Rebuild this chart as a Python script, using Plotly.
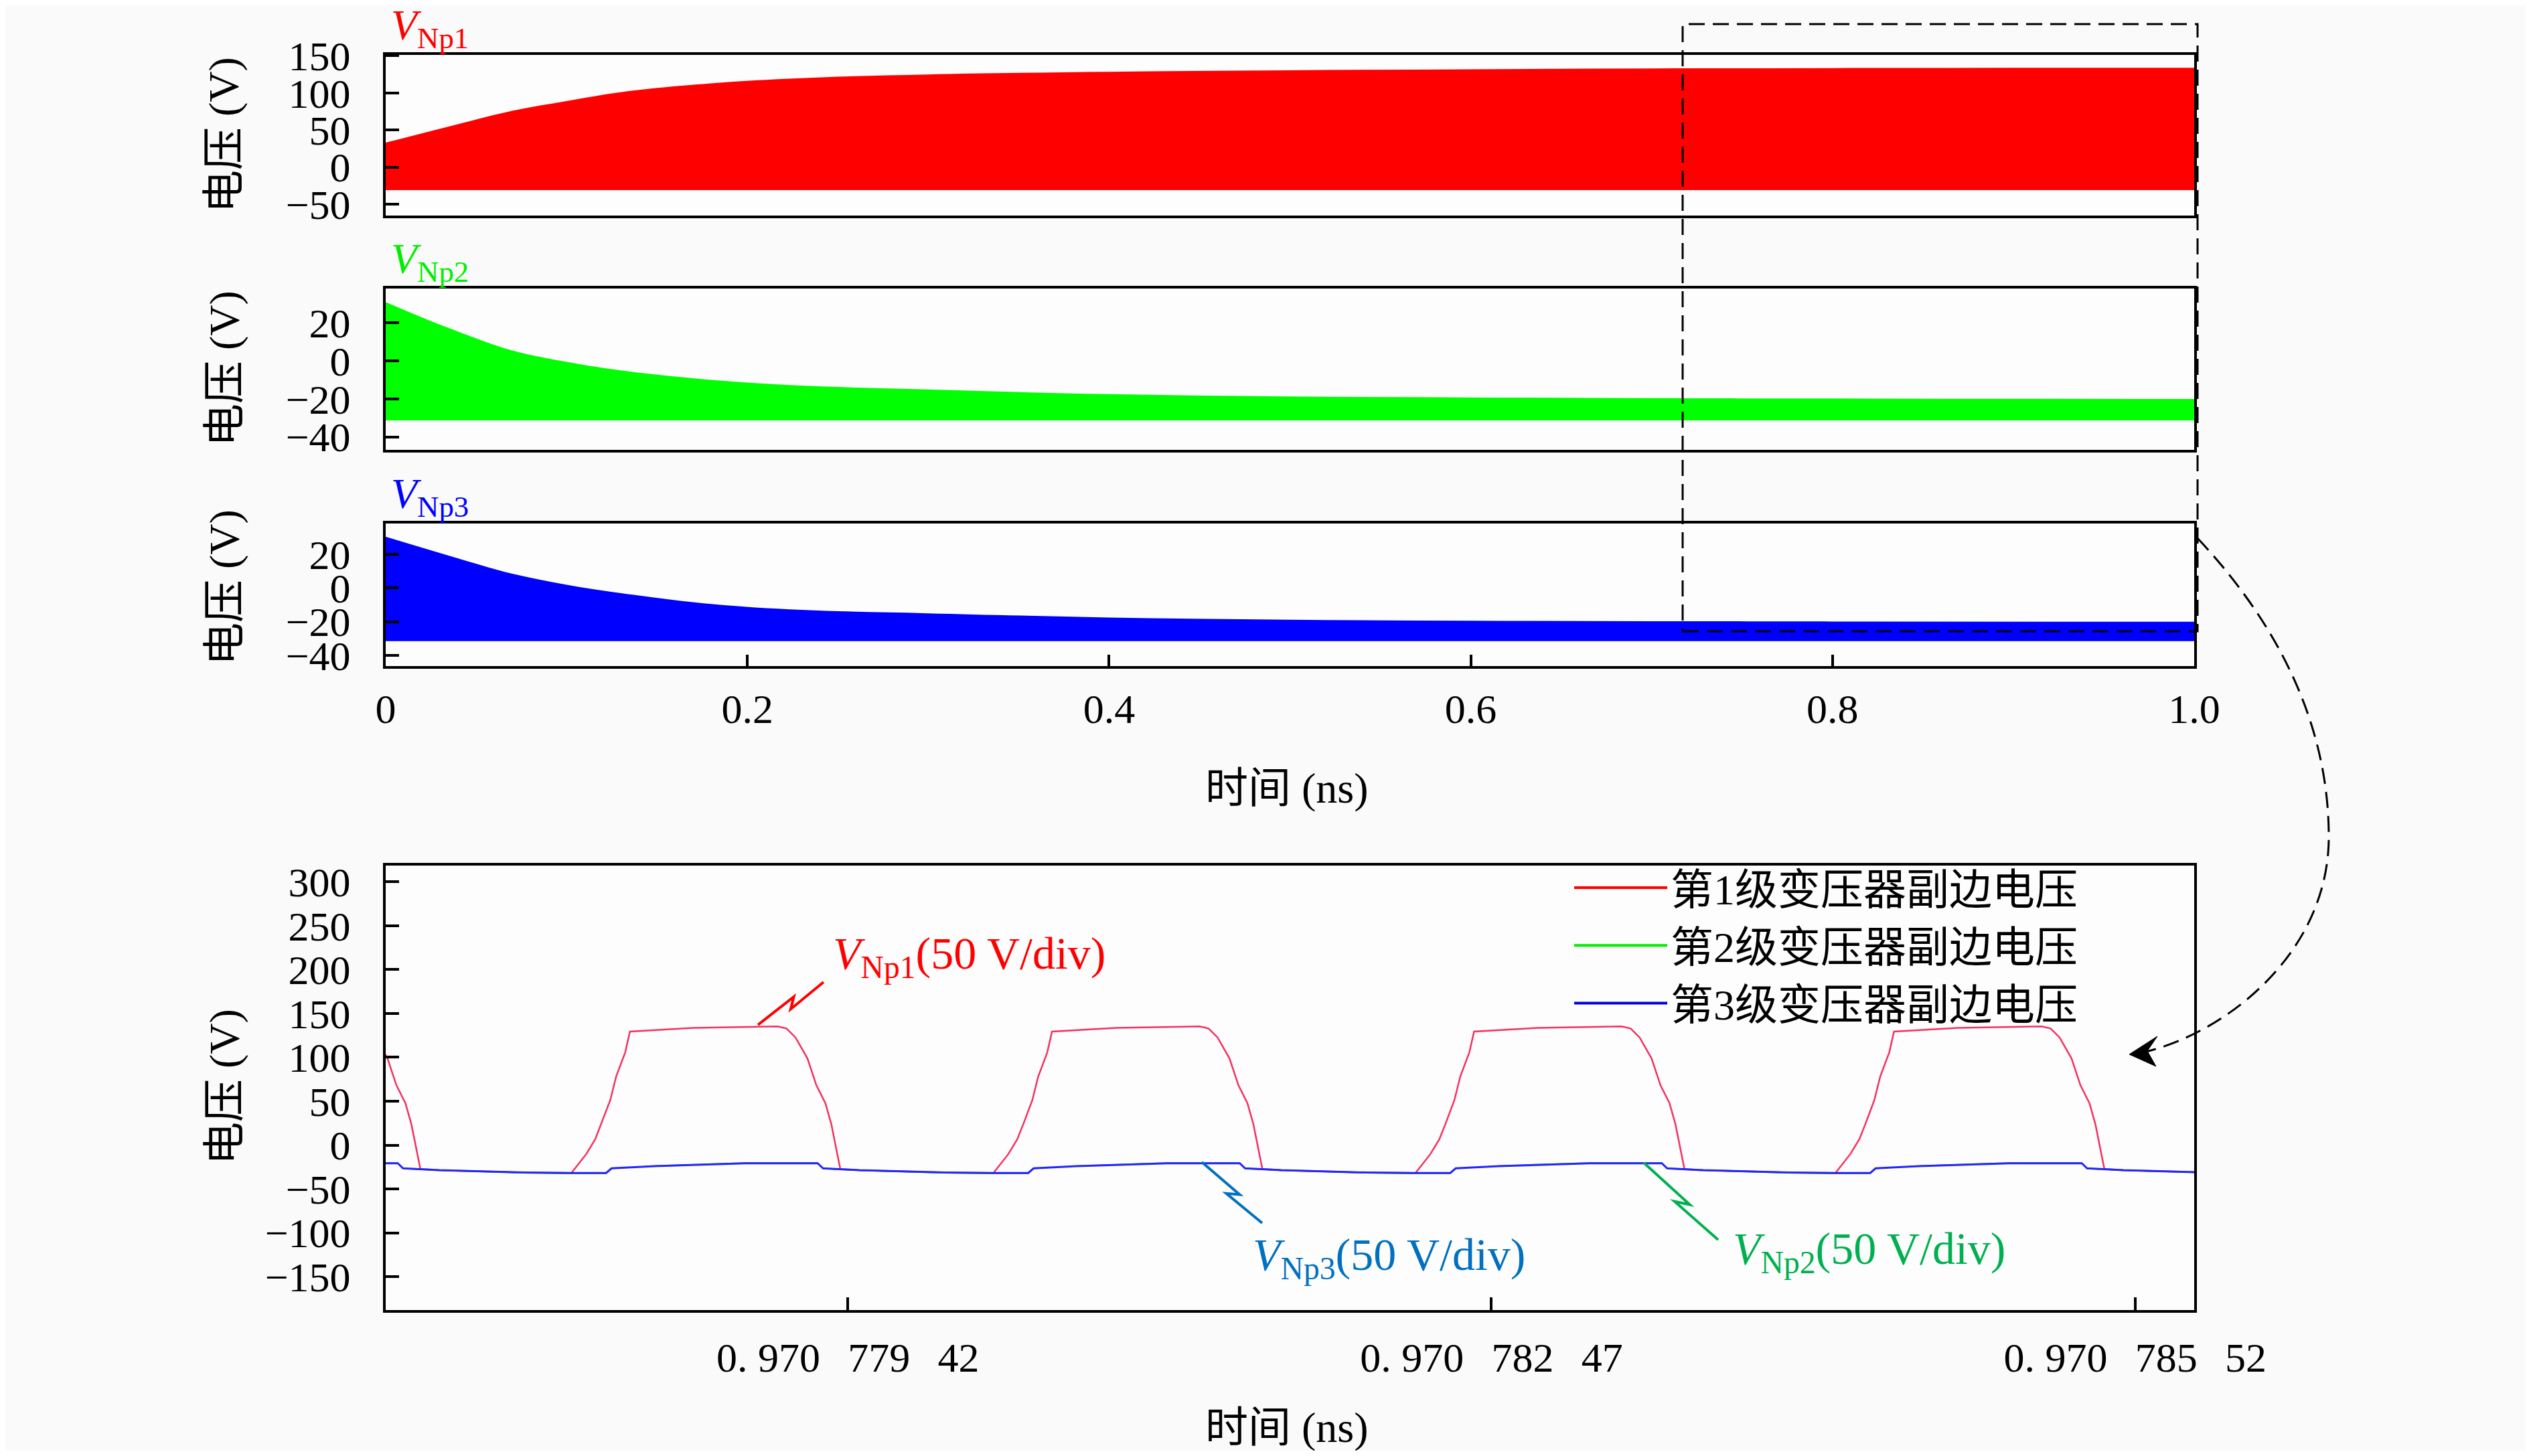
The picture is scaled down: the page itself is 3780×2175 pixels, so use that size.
import plotly.graph_objects as go

W, H = 3780, 2175          # browser window
OFF = 8                    # default body margin of the page
FW, FH = W - 2 * OFF, H - 2 * OFF
FONT = "Liberation Serif, Noto Sans CJK SC, serif"

# ---- top panels: envelope of the fast ringing over 0..1 ns
T_NP1 = [0, 0.04, 0.07, 0.1, 0.13, 0.18, 0.23, 0.3, 0.4, 0.5, 0.6, 0.7, 0.8, 0.9, 1.0]
V_NP1_TOP = [33, 58, 76, 89, 101, 113, 120, 125, 128.5, 130.5, 132, 133, 133.5, 134, 134]
V_NP1_LOW = -31

T_NP2 = [0, 0.033, 0.07, 0.1, 0.13, 0.18, 0.23, 0.3, 0.4, 0.5, 0.6, 0.7, 0.8, 1.0]
V_NP2_TOP = [31, 18, 5.5, -0.5, -5, -10, -13, -15, -17.5, -18.7, -19.2, -19.6, -19.8, -20]
V_NP2_LOW = -31.3

T_NP3 = [0, 0.042, 0.07, 0.1, 0.13, 0.18, 0.23, 0.3, 0.4, 0.5, 0.6, 0.7, 0.8, 1.0]
V_NP3_TOP = [30.5, 17, 8.5, 2, -3, -9.5, -13, -15, -17.5, -18.8, -19.4, -19.7, -19.9, -20]
V_NP3_LOW = -31.6

# ---- bottom panel: zoomed window around 0.97078 ns
PULSE_START = [0.97077612, 0.97077811, 0.97078011, 0.97078211, 0.97078410]  # ns
# shape of one period, time given in 1e-6 ns after the pulse start
NP1_DT = [0, 0.0707, 0.1132, 0.1414, 0.1839, 0.2125, 0.2550, 0.2775, 0.5804, 0.9768,
          1.0193, 1.0618, 1.1186, 1.1608, 1.2036, 1.2318, 1.2743, 1.3637, 1.5413, 1.7665]
NP1_V = [-31.8, -10.2, 6.8, 23.8, 51, 78.4, 105.6, 129.4, 133.6, 135.3,
         132.9, 122.7, 98.8, 68.2, 47.7, 23.8, -27.3, -28.6, -29.8, -31.3]
NP23_DT = [0, 0.1649, 0.1903, 0.3964, 0.6502, 0.8246, 1.1671, 1.1925, 1.3637, 1.5413, 1.7665]
NP2_V = [-32.3, -32.3, -26.8, -23.6, -21.5, -20.2, -20.1, -26.8, -29.0, -30.3, -31.8]
NP3_V = [-31.8, -31.8, -26.5, -24.0, -22.0, -20.8, -20.7, -26.5, -28.6, -29.8, -31.3]

BOT_RANGE = [0.97077723, 0.97078580]
BOT_TICKS = [0.97077942, 0.97078247, 0.97078552]
BOT_TICKTEXT = ["0.\u2005970\u2002\u2006779\u2002\u200642",
                "0.\u2005970\u2002\u2006782\u2002\u200647",
                "0.\u2005970\u2002\u2006785\u2002\u200652"]
LEGEND_NAMES = ["第1级变压器副边电压", "第2级变压器副边电压", "第3级变压器副边电压"]


# screen pixel -> paper fraction
def px(x):
    return (x - OFF) / FW


def py(y):
    return 1 - (y - OFF) / FH


def pulses(dt, v):
    xs, ys = [], []
    for s in PULSE_START:
        xs += [s + d * 1e-6 for d in dt]
        ys += v
    return xs, ys


def path(points):
    return "M " + " L ".join(f"{px(x):.6f},{py(y):.6f}" for x, y in points)


def zigzag(x0, y0, x1, y1):
    dx, dy = x1 - x0, y1 - y0
    ln = (dx * dx + dy * dy) ** 0.5
    nx, ny = -dy / ln, dx / ln
    a = (x0 + 0.58 * dx - 6 * nx, y0 + 0.58 * dy - 6 * ny)
    b = (x0 + 0.46 * dx + 7 * nx, y0 + 0.46 * dy + 7 * ny)
    return path([(x0, y0), a, b, (x1, y1)])


fig = go.Figure()

# filled bands on the three upper panels
bands = [(T_NP1, V_NP1_TOP, V_NP1_LOW, "#ff0000", "1"),
         (T_NP2, V_NP2_TOP, V_NP2_LOW, "#00ff00", "2"),
         (T_NP3, V_NP3_TOP, V_NP3_LOW, "#0000ff", "3")]
for t, top, low, color, k in bands:
    fig.add_trace(go.Scatter(x=[t[0], t[-1]], y=[low, low], mode="lines", line=dict(width=0),
                             showlegend=False, hoverinfo="skip", xaxis="x" + k, yaxis="y" + k))
    fig.add_trace(go.Scatter(x=t, y=top, mode="lines", line=dict(width=0, shape="spline"),
                             fill="tonexty", fillcolor=color, showlegend=False,
                             xaxis="x" + k, yaxis="y" + k))

# zoomed waveforms
for dt, v, color, w in [(NP1_DT, NP1_V, "#f5305f", 2.5), (NP23_DT, NP2_V, "#00d000", 1.5),
                        (NP23_DT, NP3_V, "#2525ff", 3)]:
    x, y = pulses(dt, v)
    fig.add_trace(go.Scatter(x=x, y=y, mode="lines", line=dict(color=color, width=w),
                             showlegend=False, xaxis="x4", yaxis="y4"))

# legend swatches
for name, color in zip(LEGEND_NAMES, ["#ff0000", "#00ee00", "#0000dd"]):
    fig.add_trace(go.Scatter(x=[None], y=[None], mode="lines", name=name,
                             line=dict(color=color, width=4), xaxis="x4", yaxis="y4"))

axis = dict(showline=True, linewidth=4, linecolor="black", mirror=True, ticks="inside",
            ticklen=20, tickwidth=4, tickcolor="black", showgrid=False, zeroline=False,
            tickfont=dict(size=62, family=FONT, color="black"))
xdom = [px(576), px(3277)]

layout = dict(
    width=FW, height=FH, margin=dict(l=0, r=0, t=0, b=0, autoexpand=False),
    paper_bgcolor="#fafafa", plot_bgcolor="#fdfdfd",
    font=dict(family=FONT, color="black"),
    showlegend=True,
    legend=dict(x=px(2346), y=py(1278), xanchor="left", yanchor="top", bgcolor="rgba(0,0,0,0)",
                font=dict(size=64, family=FONT), itemwidth=139, tracegroupgap=0,
                traceorder="normal"),
)
layout["xaxis"] = dict(axis, domain=xdom, anchor="y", range=[0, 1], ticks="", showticklabels=False)
layout["xaxis2"] = dict(axis, domain=xdom, anchor="y2", range=[0, 1], ticks="", showticklabels=False)
layout["xaxis3"] = dict(axis, domain=xdom, anchor="y3", range=[0, 1], ticklen=17,
                        tickvals=[0, 0.2, 0.4, 0.6, 0.8, 1.0],
                        ticktext=["0", "0.2", "0.4", "0.6", "0.8", "1.0"], ticklabelstandoff=7)
layout["xaxis4"] = dict(axis, domain=xdom, anchor="y4", range=BOT_RANGE, ticklen=19,
                        tickvals=BOT_TICKS, ticktext=BOT_TICKTEXT, ticklabelstandoff=14)
layout["yaxis"] = dict(axis, domain=[py(322), py(82)], anchor="x", range=[-65.3, 151.3],
                       tickvals=[-50, 0, 50, 100, 150], ticklabelstandoff=36)
layout["yaxis2"] = dict(axis, domain=[py(672), py(431)], anchor="x2", range=[-46.8, 38.1],
                        tickvals=[-40, -20, 0, 20], ticklabelstandoff=36)
layout["yaxis3"] = dict(axis, domain=[py(995), py(782)], anchor="x3", range=[-46.4, 38.4],
                        tickvals=[-40, -20, 0, 20], ticklabelstandoff=36)
layout["yaxis4"] = dict(axis, domain=[py(1957), py(1293)], anchor="x4", range=[-188, 318.5],
                        tickvals=[-150, -100, -50, 0, 50, 100, 150, 200, 250, 300], ticklabelstandoff=36)
fig.update_layout(layout)

# texts
ann = []
for yc in [202, 551, 878, 1624]:
    ann.append(dict(x=px(335), y=py(yc), text="电压 (V)", textangle=-90, font=dict(size=64)))
for yc in [1177, 2132]:
    ann.append(dict(x=px(1922), y=py(yc), text="时间 (ns)", font=dict(size=64)))
for k, yb, color in [(1, 84, "#ff0000"), (2, 433, "#00ee00"), (3, 784, "#0000ff")]:
    ann.append(dict(x=px(582), y=py(yb), xanchor="left", yanchor="bottom",
                    text=f"<i>V</i><sub>Np{k}</sub>", font=dict(size=64, color=color)))
for k, x0, yc, color in [(1, 1242, 1428, "#ff0000"), (3, 1869, 1878, "#0070c0"),
                         (2, 2586, 1869, "#00b050")]:
    ann.append(dict(x=px(x0), y=py(yc), xanchor="left", yanchor="middle",
                    text=f"<i>V</i><sub>Np{k}</sub>(50 V/div)", font=dict(size=68, color=color)))
for a in ann:
    a.update(xref="paper", yref="paper", showarrow=False)
    a.setdefault("xanchor", "center")
    a.setdefault("yanchor", "middle")
    a["font"].setdefault("family", FONT)
    a["font"].setdefault("color", "black")
fig.update_layout(annotations=ann)

# zoom box, curved arrow and leader lines
shapes = [
    dict(type="rect", x0=px(2513), x1=px(3282), y0=py(943), y1=py(36),
         line=dict(color="black", width=3, dash="24px,12px")),
    dict(type="path",
         path=(f"M {px(3282):.6f},{py(804):.6f} C {px(3400):.6f},{py(930):.6f} "
               f"{px(3478):.6f},{py(1080):.6f} {px(3478):.6f},{py(1250):.6f} "
               f"C {px(3478):.6f},{py(1420):.6f} {px(3330):.6f},{py(1540):.6f} "
               f"{px(3205):.6f},{py(1571):.6f}"),
         line=dict(color="black", width=3, dash="24px,12px")),
    dict(type="path", path=path([(3180, 1575), (3222, 1548), (3207, 1570), (3220, 1593)]) + " Z",
         fillcolor="black", line=dict(color="black", width=1)),
    dict(type="path", path=zigzag(1132, 1531, 1230, 1467), line=dict(color="#ff0000", width=4)),
    dict(type="path", path=zigzag(1795, 1736, 1885, 1827), line=dict(color="#0070c0", width=4)),
    dict(type="path", path=zigzag(2455, 1737, 2566, 1852), line=dict(color="#00b050", width=4)),
]
for s in shapes:
    s.update(xref="paper", yref="paper", layer="above")
fig.update_layout(shapes=shapes)

fig.write_html("out.html")
